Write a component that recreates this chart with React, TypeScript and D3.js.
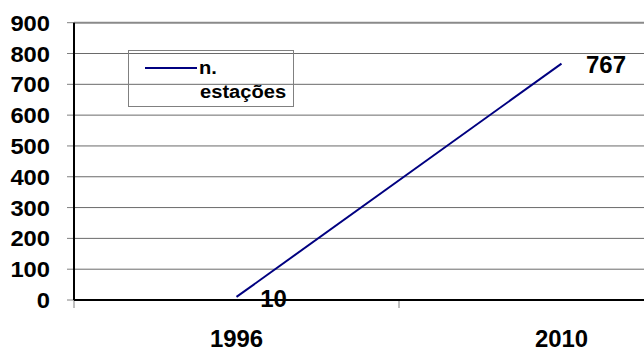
import React from "react";
import * as d3 from "d3";

const categories = ["1996", "2010"];
const values = [10, 767];
const yTicks = [0, 100, 200, 300, 400, 500, 600, 700, 800, 900];
const seriesName = ["n.", "estações"];

const font = "'Liberation Sans', Arial, sans-serif";

function T(props: { x: number; y: number; size: number; sx?: number; anchor?: string; children: any }) {
  const { x, y, size, sx = 1.08, anchor = "start", children } = props;
  return (
    <text transform={`translate(${x},${y}) scale(${sx},1)`} textAnchor={anchor}
      fontFamily={font} fontWeight="bold" fontSize={size} fill="#000">{children}</text>
  );
}

export default function App() {
  const W = 644, H = 351;
  const left = 74, top = 22.7, bottom = 300;
  const x = d3.scaleBand<string>().domain(categories).range([left, left + 650]);
  const y = d3.scaleLinear().domain([0, 900]).range([bottom, top]);
  const cx = (c: string) => (x(c) as number) + x.bandwidth() / 2;
  const line = d3.line<number>()
    .x((_, i) => cx(categories[i]))
    .y((d) => y(d));
  const xTickPos = [left, left + x.bandwidth()];
  return (
    <svg width={W} height={H} style={{ position: "absolute", left: 0, top: 0, background: "#fff" }}>
      {yTicks.map((t) => (
        <g key={t}>
          {t !== 0 && t !== 900 && (
            <line x1={left} x2={W} y1={y(t)} y2={y(t)} stroke="#6a6a6a" strokeWidth={1} />
          )}
          <line x1={left - 7} x2={left} y1={y(t)} y2={y(t)} stroke="#808080" strokeWidth={1} />
          <T x={50} y={y(t) + 8} size={22} anchor="end">{t}</T>
        </g>
      ))}
      <line x1={left} x2={W} y1={y(900)} y2={y(900)} stroke="#8a8a8a" strokeWidth={2} />
      {xTickPos.map((p, i) => (
        <line key={i} x1={p} x2={p} y1={bottom} y2={bottom + 8} stroke="#808080" strokeWidth={1} />
      ))}
      <line x1={left} x2={W} y1={bottom} y2={bottom} stroke="#000" strokeWidth={2} />
      <line x1={left} x2={left} y1={top} y2={bottom} stroke="#000" strokeWidth={2} />
      {categories.map((c) => (
        <T key={c} x={cx(c)} y={347} size={23} sx={1.04} anchor="middle">{c}</T>
      ))}
      <path d={line(values) || ""} fill="none" stroke="#000080" strokeWidth={2} />
      <T x={cx(categories[0]) + 37} y={307} size={24} sx={1.0} anchor="middle">{values[0]}</T>
      <T x={586} y={73} size={24} sx={1.0}>{values[1]}</T>
      <rect x={128.5} y={50.5} width={165} height={56} fill="none" stroke="#808080" strokeWidth={1} />
      <line x1={145} x2={197} y1={68} y2={68} stroke="#000080" strokeWidth={2} />
      <T x={199} y={74} size={19} sx={1.06}>{seriesName[0]}</T>
      <T x={200} y={98} size={19} sx={1.06}>{seriesName[1]}</T>
    </svg>
  );
}
